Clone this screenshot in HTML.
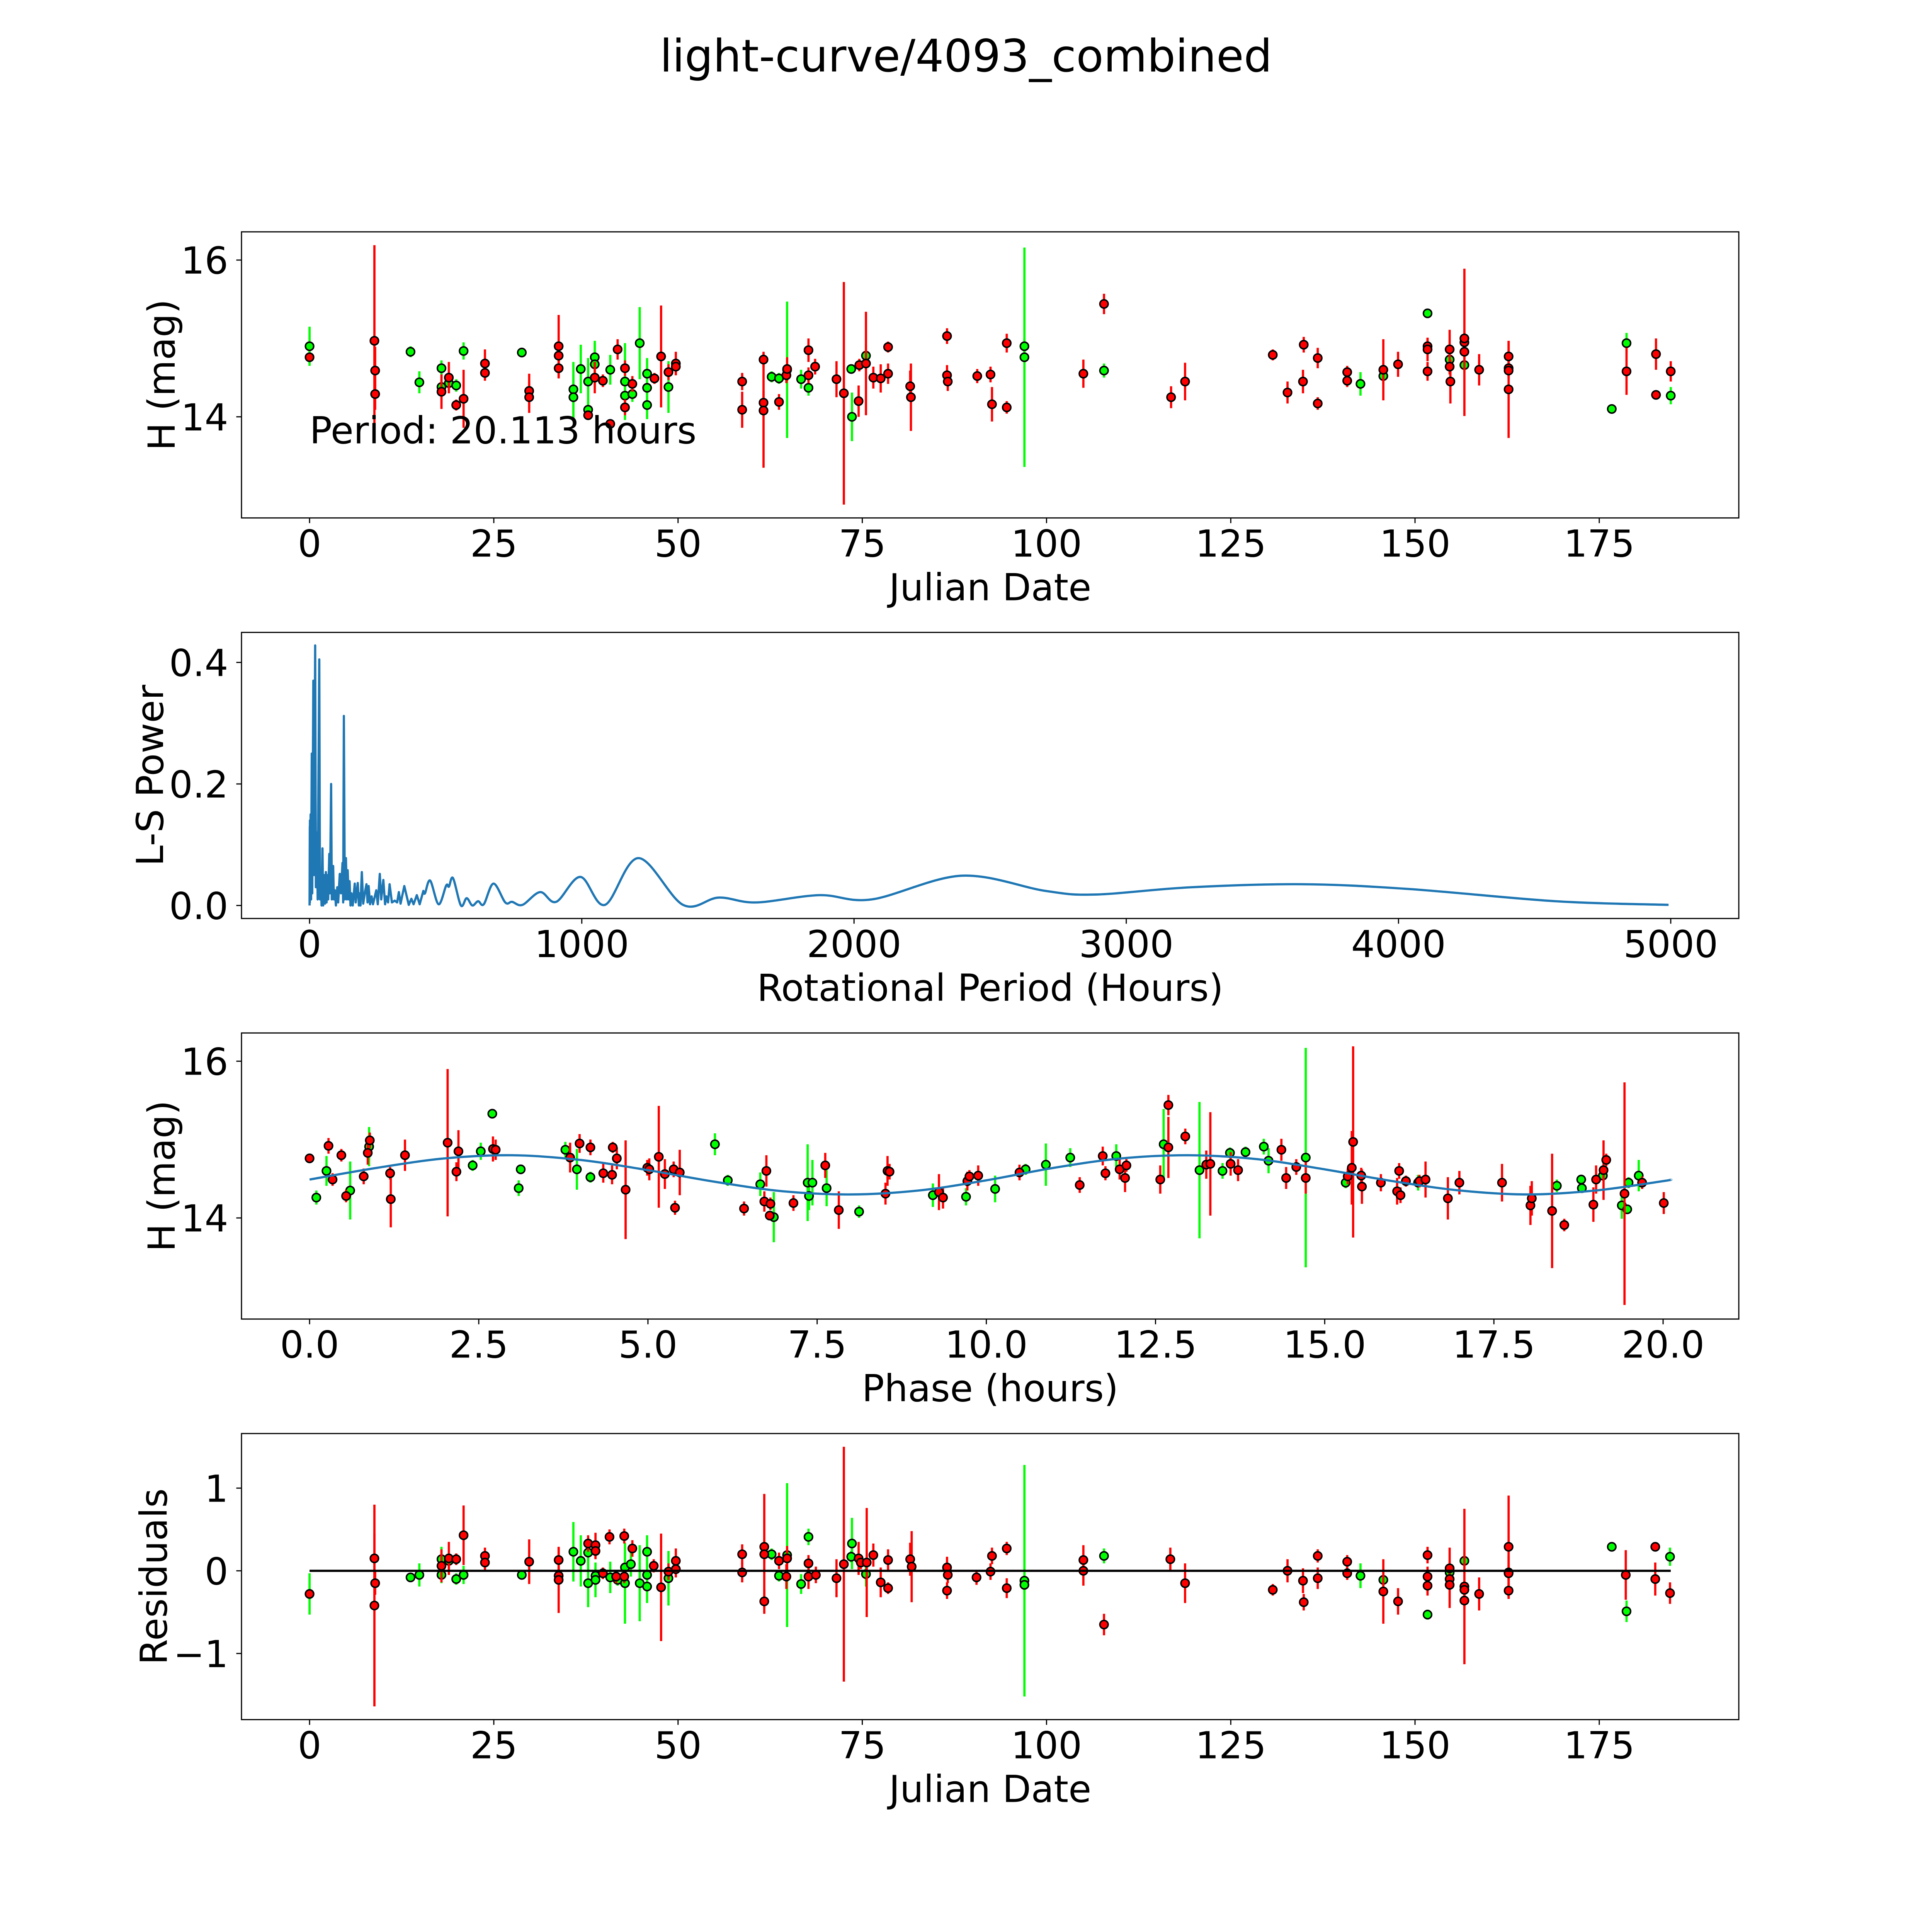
<!DOCTYPE html>
<html>
<head>
<meta charset="utf-8">
<style>
html,body{margin:0;padding:0;background:#fff;overflow:hidden;width:100%;height:100%;}
svg{display:block;width:100vw;height:100vh;}
text{font-family:"DejaVu Sans","Liberation Sans",sans-serif;fill:#000;}
</style>
</head>
<body>
<svg id="chart" xmlns="http://www.w3.org/2000/svg" viewBox="0 0 5400 5400" preserveAspectRatio="xMidYMid meet">
<rect x="0" y="0" width="5400" height="5400" fill="#fff"/>
<text x="2700" y="200" font-size="125" text-anchor="middle">light-curve/4093_combined</text>
</svg>
<script>
// ---------- Panel 1: light curve (Julian date) ----------
const lcGreenDate=[0,13.7,14.9,17.9,17.9,18.9,19.9,20.9,28.8,35.8,35.8,36.8,37.8,37.8,38.7,38.7,40.8,42.8,42.8,43.8,44.8,45.8,45.8,45.8,48.7,62.7,63.7,64.8,66.7,67.7,73.5,73.6,75.5,97.0,97.0,107.8,142.6,145.7,151.7,154.7,156.7,176.7,178.7,184.7];
const lcGreenMag=[14.90,14.83,14.44,14.62,14.38,14.43,14.40,14.84,14.82,14.35,14.25,14.61,14.45,14.09,14.76,14.67,14.60,14.45,14.27,14.29,14.94,14.55,14.37,14.15,14.38,14.51,14.49,14.60,14.48,14.37,14.61,14.00,14.78,14.90,14.76,14.59,14.42,14.52,15.32,14.73,14.66,14.10,14.94,14.27];
const lcGreenErr=[0.25,0.07,0.14,0.1,0.1,0.1,0.08,0.11,0.05,0.35,0.3,0.31,0.3,0.1,0.18,0.3,0.19,0.49,0.1,0.1,0.46,0.2,0.2,0.18,0.33,0.07,0.07,0.87,0.12,0.1,0.05,0.31,0.15,0.1,1.40,0.09,0.15,0.1,0.06,0.1,0.1,0.05,0.13,0.11];
const lcRedDate=[0,8.8,8.9,8.9,17.9,18.9,19.9,20.9,23.8,23.8,29.8,29.8,33.8,33.8,33.8,37.8,38.7,39.8,40.8,41.8,42.8,42.8,43.8,46.8,47.7,48.7,49.7,49.7,58.7,58.7,61.6,61.6,61.6,63.7,64.7,64.8,67.7,67.7,68.6,71.5,72.5,74.5,74.6,75.5,76.5,77.5,78.5,78.5,81.5,81.6,86.5,86.5,86.6,90.6,92.4,92.6,94.6,94.6,105.0,107.8,116.9,118.8,130.7,132.7,134.8,134.9,136.8,136.8,140.8,140.8,145.7,147.7,151.7,151.7,151.7,154.7,154.7,154.8,156.7,156.7,156.7,158.7,162.7,162.7,162.7,162.7,178.7,182.7,182.7,184.7];
const lcRedMag=[14.76,14.97,14.59,14.29,14.32,14.50,14.15,14.23,14.68,14.56,14.33,14.25,14.90,14.78,14.62,14.02,14.50,14.46,13.91,14.86,14.62,14.12,14.42,14.49,14.77,14.57,14.68,14.64,14.45,14.09,14.73,14.18,14.08,14.19,14.53,14.61,14.85,14.53,14.64,14.48,14.30,14.20,14.66,14.68,14.50,14.49,14.55,14.89,14.39,14.25,15.03,14.53,14.45,14.52,14.54,14.16,14.94,14.12,14.55,15.44,14.25,14.45,14.79,14.31,14.45,14.92,14.75,14.17,14.57,14.46,14.60,14.67,14.90,14.86,14.58,14.86,14.64,14.45,14.95,15.00,14.83,14.60,14.77,14.62,14.59,14.35,14.58,14.80,14.28,14.58];
const lcRedErr=[0.05,1.22,0.3,0.2,0.22,0.2,0.07,0.37,0.18,0.1,0.22,0.2,0.4,0.1,0.13,0.05,0.2,0.08,0.05,0.13,0.1,0.1,0.1,0.07,0.65,0.1,0.15,0.1,0.11,0.23,0.1,0.15,0.73,0.1,0.1,0.15,0.15,0.1,0.1,0.23,1.42,0.2,0.08,0.66,0.14,0.18,0.13,0.07,0.2,0.43,0.1,0.13,0.12,0.09,0.1,0.22,0.12,0.08,0.18,0.13,0.14,0.24,0.07,0.14,0.15,0.1,0.13,0.08,0.08,0.08,0.39,0.16,0.1,0.15,0.12,0.25,0.1,0.28,0.94,0.08,0.1,0.2,0.2,0.1,0.1,0.62,0.3,0.2,0.05,0.13];

// ---------- Panel 2: Lomb-Scargle periodogram ----------
const lsPeriod=[0,0.9,1.1,1.4,2.2,3.9,5.6,8.1,9.8,13.9,16.5,20.6,23.2,27.3,29.8,35.7,38.2,41.6,44.1,47.4,49.9,54,56.6,60,62.5,66,68.3,72.5,75,79.2,81.7,86.7,89.2,93,96.8,101.8,105.1,111,115.2,121,123.5,126,129.4,133.6,137,140,143.6,147,150.4,154,158.5,166,169.5,177,181.2,184,187.1,192,197,204.7,209,213,217,222.2,228,233,245,250.6,258,263.2,271,277.4,282,288.3,294,302.5,313,321.7,328,334.3,348,364.4,374,382,394,404.5,418,424,443,474,502,512,527,556,577,598,619,640,675.6,719,744,782,847,906,995,1085,1208,1372,1503,1640,1873,2065,2395,2703,2885,3238,3648,4041,4577,4992];
const lsPower=[0,0.13,0.005,0.14,0.02,0.15,0.01,0.25,0.02,0.37,0.05,0.428,0.03,0.12,0.01,0.405,0.01,0.05,0,0.094,0,0.05,0.003,0.055,0.005,0.05,0.01,0.085,0.02,0.2,0.01,0.065,0.01,0.025,0,0.03,0.005,0.052,0.02,0.07,0.005,0.312,0.01,0.078,0.01,0.058,0.01,0.04,0,0.02,0,0.036,0.005,0.037,0,0.02,0,0.055,0.003,0.025,0.035,0.005,0.032,0.002,0.015,0.002,0.025,0.002,0.052,0.01,0.042,0.002,0.015,0.005,0.035,0.005,0.008,0.005,0.022,0.003,0.032,0.001,0.011,0.002,0.017,0.002,0.024,0.02,0.041,0.002,0.033,0.031,0.045,0,0.012,0,0.007,0.002,0.036,0.005,0.006,0.001,0.022,0.006,0.047,0.001,0.078,0.001,0.013,0.005,0.017,0.01,0.049,0.024,0.018,0.03,0.035,0.027,0.007,0.001];

// ---------- Panel 3: phase-folded curve ----------
const phGreenPhase=[0.10,0.25,0.60,0.88,2.41,2.53,2.70,3.09,3.12,3.78,3.95,4.15,5.99,6.18,6.66,6.86,7.36,7.43,7.38,7.64,8.12,9.21,9.70,10.13,10.58,10.88,11.24,11.92,12.62,13.15,13.49,13.60,13.83,14.10,14.17,14.72,15.31,16.38,18.43,18.79,18.80,19.11,19.39,19.47,19.49,19.64];
const phGreenMag=[14.26,14.60,14.35,14.91,14.67,14.85,15.33,14.38,14.62,14.87,14.62,14.52,14.94,14.48,14.43,14.01,14.45,14.45,14.28,14.38,14.08,14.29,14.27,14.37,14.62,14.68,14.77,14.79,14.94,14.61,14.60,14.83,14.84,14.91,14.73,14.77,14.45,14.45,14.41,14.49,14.38,14.54,14.16,14.11,14.45,14.54];
const phGreenErr=[0.09,0.19,0.37,0.25,0.07,0.11,0.05,0.1,0.05,0.1,0.26,0.07,0.14,0.07,0.15,0.32,0.49,0.29,0.18,0.23,0.08,0.15,0.11,0.17,0.07,0.27,0.12,0.15,0.45,0.87,0.1,0.07,0.07,0.1,0.16,1.40,0.07,0.1,0.08,0.06,0.05,0.05,0.17,0.05,0.07,0.2];
const phRedPhase=[0.00,0.28,0.34,0.47,0.54,0.80,0.86,0.89,1.19,1.20,1.41,2.04,2.17,2.20,2.71,2.75,3.85,3.99,4.15,4.34,4.47,4.48,4.54,4.67,4.99,5.02,5.16,5.25,5.38,5.40,5.47,6.42,6.72,6.75,6.81,6.80,7.15,7.62,7.82,8.51,8.54,8.57,9.30,9.36,9.72,9.75,9.88,10.49,11.38,11.72,11.76,11.97,12.05,12.07,12.57,12.69,12.69,12.94,13.25,13.31,13.61,13.72,14.36,14.43,14.58,14.72,15.34,15.40,15.42,15.54,15.55,15.83,16.07,16.10,16.12,16.20,16.40,16.49,16.82,16.99,17.62,18.04,18.06,18.36,18.54,18.97,19.01,19.12,19.16,19.43,19.69,20.01];
const phRedMag=[14.76,14.92,14.49,14.80,14.28,14.53,14.83,14.99,14.57,14.24,14.80,14.96,14.59,14.85,14.88,14.87,14.77,14.95,14.90,14.57,14.55,14.90,14.76,14.36,14.64,14.62,14.78,14.56,14.62,14.13,14.58,14.12,14.21,14.60,14.18,14.03,14.19,14.67,14.10,14.31,14.60,14.59,14.33,14.26,14.47,14.53,14.54,14.58,14.42,14.79,14.57,14.62,14.51,14.67,14.49,15.44,14.90,15.04,14.68,14.69,14.69,14.61,14.87,14.51,14.65,14.51,14.53,14.64,14.97,14.54,14.40,14.45,14.34,14.60,14.29,14.47,14.47,14.49,14.25,14.45,14.45,14.16,14.25,14.09,13.91,14.17,14.49,14.61,14.74,14.31,14.45,14.19];
const phRedErr=[0.05,0.1,0.08,0.08,0.08,0.1,0.15,0.1,0.08,0.36,0.2,0.94,0.12,0.27,0.16,0.13,0.19,0.12,0.1,0.12,0.12,0.07,0.14,0.63,0.1,0.14,0.65,0.19,0.1,0.09,0.29,0.09,0.13,0.2,0.08,0.05,0.1,0.16,0.24,0.14,0.19,0.1,0.23,0.14,0.12,0.08,0.13,0.1,0.1,0.12,0.09,0.13,0.18,0.08,0.18,0.13,0.39,0.1,0.18,0.66,0.15,0.14,0.14,0.14,0.1,0.2,0.1,0.47,1.22,0.1,0.22,0.11,0.17,0.1,0.1,0.07,0.08,0.23,0.27,0.15,0.24,0.25,0.22,0.73,0.08,0.22,0.18,0.38,0.08,1.42,0.08,0.14];
const modelPhase=[0,1,2,3,4,5,6,7,8,9,10,11,12,13,14,15,16,17,18,19,20,20.113];
const modelMag=[14.49,14.64,14.76,14.80,14.74,14.61,14.46,14.34,14.30,14.35,14.48,14.64,14.76,14.80,14.75,14.62,14.47,14.35,14.30,14.35,14.47,14.49];

// ---------- Panel 4: residuals ----------
const resGreenDate=[0,13.7,14.9,17.9,17.9,18.9,19.9,20.9,28.8,35.8,36.8,37.8,37.8,38.8,38.8,40.8,41.8,42.8,42.8,43.6,44.8,45.8,45.8,45.8,48.7,62.7,63.7,64.8,66.7,67.7,73.6,73.5,75.5,97.0,97.0,107.8,142.6,145.7,151.7,154.7,156.7,176.7,178.7,184.6];
const resGreenVal=[-0.28,-0.08,-0.05,0.14,-0.05,0.12,-0.1,-0.05,-0.05,0.23,0.12,0.22,-0.15,-0.06,-0.11,-0.08,-0.11,0.04,-0.15,0.08,-0.15,0.23,-0.05,-0.19,-0.09,0.2,-0.06,0.19,-0.16,0.41,0.33,0.17,-0.04,-0.12,-0.17,0.18,-0.06,-0.11,-0.53,-0.02,0.12,0.29,-0.49,0.17];
const resGreenErr=[0.25,0.05,0.14,0.15,0.1,0.1,0.07,0.11,0.05,0.36,0.31,0.1,0.29,0.1,0.21,0.19,0.07,0.2,0.49,0.15,0.46,0.2,0.2,0.2,0.33,0.07,0.07,0.87,0.12,0.1,0.31,0.07,0.15,1.40,0.1,0.09,0.15,0.1,0.06,0.1,0.1,0.05,0.13,0.11];
const resRedDate=[0,8.8,8.9,8.8,17.9,18.9,19.9,20.9,23.8,23.8,29.8,33.8,33.8,33.8,37.8,38.8,38.8,39.8,40.7,41.6,42.7,42.7,43.8,46.7,47.7,48.7,49.7,49.7,58.7,58.7,61.7,61.7,61.7,63.7,64.7,64.8,67.7,67.7,68.7,71.5,72.5,74.5,74.8,75.6,76.5,77.5,78.5,78.5,81.5,81.7,86.5,86.6,86.5,90.5,92.4,92.6,94.6,94.6,105,105,107.8,116.8,118.8,130.7,132.7,134.8,134.9,136.8,136.8,140.8,140.8,145.7,147.7,151.7,151.7,151.7,154.7,154.7,154.7,156.7,156.7,156.7,158.7,162.7,162.7,162.7,162.7,178.6,182.6,182.6,184.6];
const resRedVal=[-0.28,0.15,-0.15,-0.42,0.06,0.15,0.14,0.43,0.18,0.1,0.11,0.13,-0.06,-0.11,0.33,0.31,0.24,-0.03,0.41,-0.07,0.42,-0.07,0.27,0.06,-0.2,-0.01,0.12,0.02,0.2,-0.02,0.29,0.2,-0.37,0.12,-0.07,0.15,0.09,-0.07,-0.05,-0.09,0.08,0.15,0.1,0.1,0.19,-0.14,-0.21,0.13,0.14,0.05,0.04,-0.05,-0.24,-0.08,-0.01,0.18,0.27,-0.21,0.13,0.0,-0.65,0.14,-0.15,-0.23,0,-0.12,-0.38,0.18,-0.09,0.11,-0.03,-0.25,-0.37,0.19,-0.07,-0.18,0.03,-0.1,-0.17,-0.19,-0.23,-0.36,-0.28,0.29,-0.02,-0.03,-0.24,-0.05,0.29,-0.1,-0.27];
const resRedErr=[0.05,0.3,0.14,1.22,0.2,0.2,0.07,0.36,0.1,0.1,0.27,0.15,0.1,0.4,0.1,0.15,0.1,0.07,0.09,0.08,0.09,0.08,0.1,0.08,0.65,0.1,0.15,0.1,0.12,0.12,0.64,0.1,0.15,0.1,0.15,0.15,0.1,0.15,0.1,0.23,1.42,0.2,0.08,0.66,0.14,0.18,0.07,0.13,0.2,0.43,0.13,0.1,0.1,0.09,0.1,0.1,0.08,0.12,0.18,0.18,0.13,0.14,0.24,0.07,0.14,0.15,0.1,0.08,0.13,0.08,0.08,0.39,0.16,0.1,0.12,0.12,0.25,0.1,0.28,0.94,0.08,0.1,0.2,0.62,0.2,0.1,0.1,0.3,0.05,0.2,0.13];
const resLineDate=[0,184.7];
const resLineVal=[0,0];

// tick arrays
const dateTicks=[0,25,50,75,100,125,150,175];
const magTicks=[14,16];
const lsXTicks=[0,1000,2000,3000,4000,5000];
const lsYTicks=[0.0,0.2,0.4];
const lsYTickLabels=['0.0','0.2','0.4'];
const phaseTicks=[0,2.5,5,7.5,10,12.5,15,17.5,20];
const phaseTickLabels=['0.0','2.5','5.0','7.5','10.0','12.5','15.0','17.5','20.0'];
const resTicks=[-1,0,1];
const resTickLabels=['\u22121','0','1'];

const NS='http://www.w3.org/2000/svg';
const svg=document.getElementById('chart');
function mk(tag,attrs,parent){const e=document.createElementNS(NS,tag);for(const k in attrs)e.setAttribute(k,attrs[k]);(parent||svg).appendChild(e);return e;}

const L=675, W=4185, H=799.6, FS=104;
const panels=[
 {key:'lightcurve',top:648,xmin:-9.235,xmax:193.935,ymin:12.71,ymax:16.36},
 {key:'periodogram',top:1767.6,xmin:-250,xmax:5250,ymin:-0.0214,ymax:0.4494},
 {key:'phase',top:2887.2,xmin:-1.0057,xmax:21.1187,ymin:12.71,ymax:16.36},
 {key:'residuals',top:4006.8,xmin:-9.235,xmax:193.935,ymin:-1.80,ymax:1.66}
];
function sx(p,v){return L+(v-p.xmin)/(p.xmax-p.xmin)*W;}
function sy(p,v){return p.top+(p.ymax-v)/(p.ymax-p.ymin)*H;}

const defs=mk('defs',{});
panels.forEach((p,i)=>{
  const cp=mk('clipPath',{id:'clip'+i},defs);
  mk('rect',{x:L,y:p.top,width:W,height:H},cp);
});

function errSeries(p,i,g,xs,ys,es,color,name){
  const grp=mk('g',{'clip-path':'url(#clip'+i+')'},g);
  
  
  for(let k=0;k<xs.length;k++){
    const ln=mk('line',{x1:sx(p,xs[k]),x2:sx(p,xs[k]),y1:sy(p,ys[k]-es[k]),y2:sy(p,ys[k]+es[k]),stroke:color,'stroke-width':6.25},grp);
    
    
  }
  for(let k=0;k<xs.length;k++){
    const c=mk('circle',{cx:sx(p,xs[k]),cy:sy(p,ys[k]),r:11.5,fill:color,stroke:'#000','stroke-width':4.2},grp);
    
    
  }
}
function smoothPath(pts){
  let d='M'+pts[0][0]+','+pts[0][1];
  for(let i=0;i<pts.length-1;i++){
    const p0=pts[Math.max(0,i-1)],p1=pts[i],p2=pts[i+1],p3=pts[Math.min(pts.length-1,i+2)];
    const c1x=p1[0]+(p2[0]-p0[0])/6,c1y=p1[1]+(p2[1]-p0[1])/6;
    const c2x=p2[0]-(p3[0]-p1[0])/6,c2y=p2[1]-(p3[1]-p1[1])/6;
    d+=' C'+c1x+','+c1y+' '+c2x+','+c2y+' '+p2[0]+','+p2[1];
  }
  return d;
}
function axisDecor(p,i,g,xt,xl,yt,yl,xlabel,ylabel,ylabelX){
  const frame=mk('rect',{x:L,y:p.top,width:W,height:H,fill:'none',stroke:'#000','stroke-width':3.2},g);
  
  
  const b=p.top+H;
  xt.forEach((v,k)=>{
    const x=sx(p,v);
    const t=mk('line',{x1:x,x2:x,y1:b,y2:b+14.6,stroke:'#000','stroke-width':3.2},g);
    
    
    const tx=mk('text',{x:x,y:b+108,'font-size':FS,'text-anchor':'middle'},g);
    
    
    tx.textContent=xl[k];
  });
  yt.forEach((v,k)=>{
    const y=sy(p,v);
    const t=mk('line',{x1:L-14.6,x2:L,y1:y,y2:y,stroke:'#000','stroke-width':3.2},g);
    
    
    const tx=mk('text',{x:L-37,y:y+38,'font-size':FS,'text-anchor':'end'},g);
    
    
    tx.textContent=yl[k];
  });
  const xlab=mk('text',{x:L+W/2,y:b+230,'font-size':FS,'text-anchor':'middle'},g);
  
  
  xlab.textContent=xlabel;
  const cy=p.top+H/2;
  const ylab=mk('text',{x:ylabelX,y:cy,'font-size':FS,'text-anchor':'middle',transform:'rotate(-90 '+ylabelX+' '+cy+')'},g);
  
  
  ylab.textContent=ylabel;
}

// Panel 1
(function(){
  const p=panels[0];
  const g=mk('g',{});
  
  
  errSeries(p,0,g,lcGreenDate,lcGreenMag,lcGreenErr,'#00ff00','lc-green');
  errSeries(p,0,g,lcRedDate,lcRedMag,lcRedErr,'#ff0000','lc-red');
  const t=mk('text',{x:sx(p,0),y:sy(p,13.66),'font-size':FS},g);
  
  
  t.textContent='Period: 20.113 hours';
  axisDecor(p,0,g,dateTicks,dateTicks.map(String),magTicks,magTicks.map(String),'Julian Date','H (mag)',488);
})();
// Panel 2
(function(){
  const p=panels[1];
  const g=mk('g',{});
  
  
  const dense=[],smooth=[];
  for(let k=0;k<lsPeriod.length;k++){
    const pt=[sx(p,lsPeriod[k]),sy(p,lsPower[k])];
    if(lsPeriod[k]<=418)dense.push(pt);
    if(lsPeriod[k]>=418)smooth.push(pt);
  }
  let d='M'+dense.map(q=>q[0]+','+q[1]).join(' L');
  const d2=smoothPath(smooth);
  const path=mk('path',{d:d+' '+d2.replace(/^M[^ ]+/,''),fill:'none',stroke:'#1f77b4','stroke-width':6.25,'stroke-linejoin':'round','clip-path':'url(#clip1)'},g);
  
  
  axisDecor(p,1,g,lsXTicks,lsXTicks.map(String),lsYTicks,lsYTickLabels,'Rotational Period (Hours)','L-S Power',456);
})();
// Panel 3
(function(){
  const p=panels[2];
  const g=mk('g',{});
  
  
  errSeries(p,2,g,phGreenPhase,phGreenMag,phGreenErr,'#00ff00','phase-green');
  errSeries(p,2,g,phRedPhase,phRedMag,phRedErr,'#ff0000','phase-red');
  const pts=modelPhase.map((v,k)=>[sx(p,v),sy(p,modelMag[k])]);
  const m=mk('path',{d:smoothPath(pts),fill:'none',stroke:'#1f77b4','stroke-width':6.25},g);
  
  
  axisDecor(p,2,g,phaseTicks,phaseTickLabels,magTicks,magTicks.map(String),'Phase (hours)','H (mag)',488);
})();
// Panel 4
(function(){
  const p=panels[3];
  const g=mk('g',{});
  
  
  errSeries(p,3,g,resGreenDate,resGreenVal,resGreenErr,'#00ff00','res-green');
  errSeries(p,3,g,resRedDate,resRedVal,resRedErr,'#ff0000','res-red');
  const zl=mk('line',{x1:sx(p,resLineDate[0]),x2:sx(p,resLineDate[1]),y1:sy(p,resLineVal[0]),y2:sy(p,resLineVal[1]),stroke:'#000','stroke-width':6.25},g);
  
  
  axisDecor(p,3,g,dateTicks,dateTicks.map(String),resTicks,resTickLabels,'Julian Date','Residuals',466);
})();
</script>
</body>
</html>
